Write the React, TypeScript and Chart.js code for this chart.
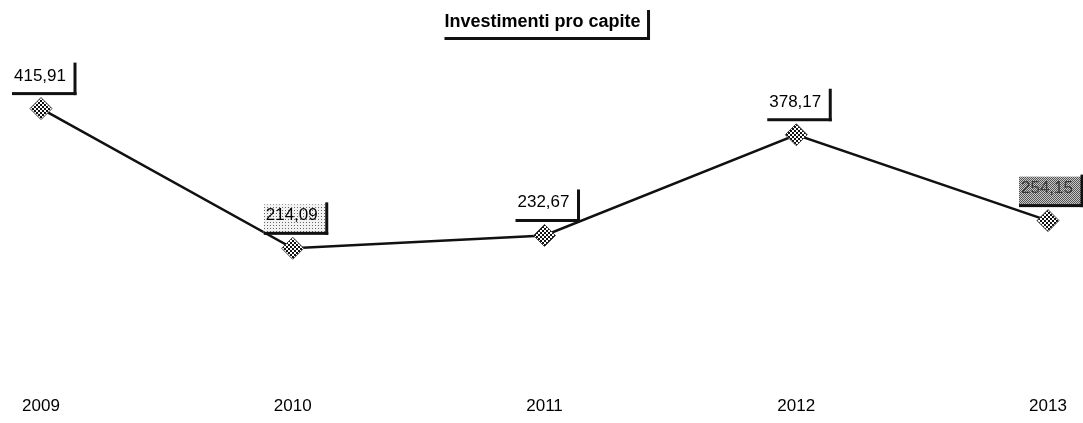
import React, { useEffect, useRef } from "react";
import { Chart, registerables } from "chart.js";

Chart.register(...registerables);

const categories = ["2009", "2010", "2011", "2012", "2013"];
const values = [415.91, 214.09, 232.67, 378.17, 254.15];
const valueLabels = ["415,91", "214,09", "232,67", "378,17", "254,15"];
const chartTitle = "Investimenti pro capite";

function makePattern(kind: string): CanvasPattern | string {
  const c = document.createElement("canvas");
  const ctx = c.getContext("2d");
  if (!ctx) return "#999";
  if (kind === "checker") {
    c.width = 4;
    c.height = 4;
    ctx.fillStyle = "#ffffff";
    ctx.fillRect(0, 0, 4, 4);
    ctx.fillStyle = "#111111";
    ctx.fillRect(0, 0, 2, 2);
    ctx.fillRect(2, 2, 2, 2);
  } else if (kind === "light") {
    c.width = 3;
    c.height = 3;
    ctx.fillStyle = "#f2f2f2";
    ctx.fillRect(0, 0, 3, 3);
    ctx.fillStyle = "#666666";
    ctx.fillRect(0, 0, 1, 1);
  } else {
    c.width = 2;
    c.height = 2;
    ctx.fillStyle = "#c8c8c8";
    ctx.fillRect(0, 0, 2, 2);
    ctx.fillStyle = "#555555";
    ctx.fillRect(0, 0, 1, 1);
    ctx.fillRect(1, 1, 1, 1);
  }
  const p = ctx.createPattern(c, "repeat");
  return p || "#999";
}

export default function App() {
  const ref = useRef<HTMLCanvasElement | null>(null);

  useEffect(() => {
    document.body.style.margin = "0";
    const canvas = ref.current;
    if (!canvas) return;
    const checker = makePattern("checker");
    const fills: Record<number, CanvasPattern | string> = {
      1: makePattern("light"),
      4: makePattern("dark"),
    };

    const decor = {
      id: "decor",
      afterDatasetsDraw(chart: any) {
        const ctx = chart.ctx as CanvasRenderingContext2D;
        ctx.save();
        // title
        ctx.font = 'bold 18px "Liberation Sans", Arial, sans-serif';
        ctx.fillStyle = "#000";
        ctx.textAlign = "center";
        ctx.textBaseline = "alphabetic";
        const tcx = 542.5;
        ctx.fillText(chartTitle, tcx, 27);
        const ttw = ctx.measureText(chartTitle).width;
        const tl = tcx - ttw / 2;
        const tr = tcx + ttw / 2 + 8;
        ctx.fillStyle = "#111";
        ctx.fillRect(tl, 37, tr - tl + 1.5, 3);
        ctx.fillRect(tr - 1.5, 10, 3, 30);

        // data labels
        const meta = chart.getDatasetMeta(0);
        ctx.font = '17px "Liberation Sans", Arial, sans-serif';
        meta.data.forEach((pt: any, i: number) => {
          const lbl = valueLabels[i];
          const tw = ctx.measureText(lbl).width;
          const cx = pt.x - 1;
          const bottom = pt.y - 15;
          const left = cx - tw / 2 - 2;
          const right = cx + tw / 2 + 9;
          const top = bottom - 31;
          const fill = fills[i];
          ctx.fillStyle = fill ? (fill as any) : "#ffffff";
          ctx.fillRect(left, top + 2, right - left, bottom - top - 2);
          ctx.fillStyle = i === 4 ? "#3a3a3a" : "#000";
          ctx.textAlign = "center";
          ctx.textBaseline = "alphabetic";
          ctx.fillText(lbl, cx, bottom - 13);
          ctx.fillStyle = "#111";
          ctx.fillRect(left, bottom - 1.5, right - left + 1.5, 3);
          ctx.fillRect(right - 1.5, top, 3, bottom - top + 1.5);
        });
        ctx.restore();
      },
    };

    const chart = new Chart(canvas, {
      type: "line",
      data: {
        labels: categories,
        datasets: [
          {
            data: values,
            borderColor: "#111",
            borderWidth: 2.5,
            pointStyle: "rectRot",
            pointRadius: 11,
            pointBackgroundColor: checker as any,
            pointBorderColor: "#444",
            pointBorderWidth: 1,
            tension: 0,
            fill: false,
          },
        ],
      },
      options: {
        responsive: false,
        animation: false,
        layout: { padding: { left: 41, right: 35, top: 85, bottom: 6 } },
        plugins: {
          legend: { display: false },
          title: { display: false },
          tooltip: { enabled: false },
        },
        scales: {
          x: {
            offset: false,
            grid: { display: false, drawTicks: false },
            border: { display: false },
            ticks: {
              color: "#000",
              padding: 0,
              maxRotation: 0,
              autoSkip: false,
              font: { family: '"Liberation Sans", Arial, sans-serif', size: 17 },
            },
          },
          y: {
            display: false,
            min: 0,
            max: 450,
          },
        },
      },
      plugins: [decor],
    });
    return () => chart.destroy();
  }, []);

  return (
    <div style={{ width: 1083, height: 423, background: "#fff" }}>
      <canvas ref={ref} width={1083} height={423} style={{ display: "block" }} />
    </div>
  );
}
